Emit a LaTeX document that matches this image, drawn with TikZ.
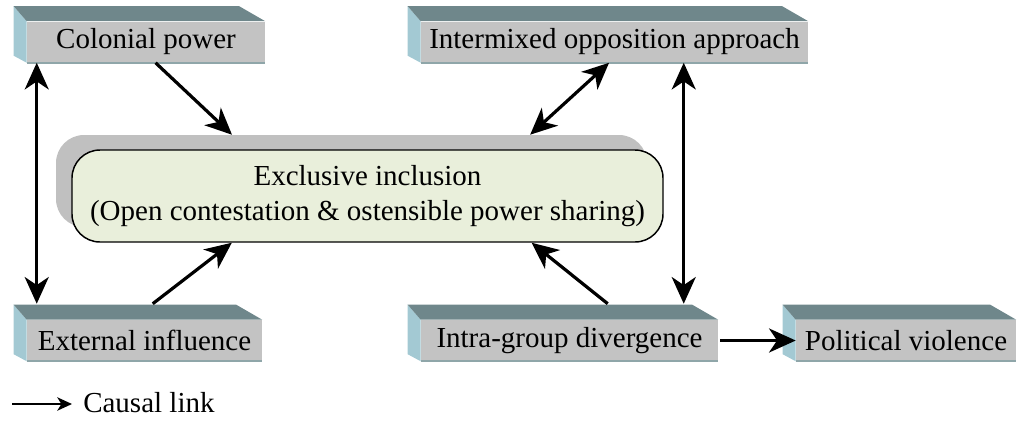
\documentclass[tikz,border=0pt]{standalone}
\usepackage{fontspec}
\setmainfont{Liberation Serif}
\usetikzlibrary{arrows.meta,calc}
\definecolor{topface}{HTML}{6F878B}
\definecolor{sideface}{HTML}{A3C9D3}
\definecolor{frontface}{HTML}{C3C3C3}
\definecolor{edgecol}{HTML}{8FA6A9}
\definecolor{mainfill}{HTML}{E9EFDB}
\definecolor{shadowgray}{HTML}{C0C0C0}
\tikzset{
  txt/.style={font=\fontsize{21.75pt}{26.25pt}\selectfont},
  boxfront/.style={txt, rectangle, fill=frontface, inner sep=0pt, minimum height=30.75pt},
  mainbox/.style={txt, rectangle, rounded corners=21pt, draw=black, line width=1.1pt, fill=mainfill,
    minimum width=443.25pt, minimum height=69pt, inner sep=0pt, align=center},
  shadowbox/.style={rectangle, rounded corners=21pt, fill=shadowgray,
    minimum width=443.25pt, minimum height=69pt, inner sep=0pt},
  arr/.style={line width=2.4pt, -{Stealth[length=20pt,width=18pt,inset=6pt]}},
  darr/.style={line width=2.4pt, {Stealth[length=20pt,width=18pt,inset=6pt]}-{Stealth[length=20pt,width=18pt,inset=6pt]}},
  legarr/.style={line width=1.4pt, -{Stealth[length=11pt,width=10pt,inset=3pt]}},
  legtext/.style={txt, inner sep=0pt, anchor=base west},
}
\newcommand\boxthreed[1]{%
  \fill[sideface] ($(#1.north west)+(-13,-15)$) -- (#1.north west) -- (#1.south west) -- ($(#1.south west)+(-13,-7)$) -- cycle;
  \fill[topface] ($(#1.north west)+(-13,-15)$) -- ($(#1.north east)+(-26,-15)$) -- (#1.north east) -- (#1.north west) -- cycle;
  \draw[edgecol, line width=1.2pt] (#1.south west) -- (#1.south east);
}
\begin{document}
\begin{tikzpicture}[x=0.75pt, y=-0.75pt]
\useasboundingbox (0,0) rectangle (1018,429);

% 3D boxes
\node[boxfront, minimum width=178.5pt] (colonial) at (146,42) {Colonial power};
\node[boxfront, minimum width=290.25pt] (inter) at (614.5,42) {Intermixed opposition approach};
\node[boxfront, minimum width=176.25pt] (external) at (144.5,340.5) {External influence};
\node[boxfront, minimum width=222.75pt] (intra) at (569.5,340.5) {Intra-group divergence};
\node[boxfront, minimum width=165pt] (political) at (906,340.5) {Political violence};
\boxthreed{colonial}
\boxthreed{inter}
\boxthreed{external}
\boxthreed{intra}
\boxthreed{political}

% central box
\node[shadowbox] (shadow) at (351.5,181) {};
\node[mainbox] (main) at (367.5,196) {Exclusive inclusion\\(Open contestation \& ostensible power sharing)};

% connectors
\draw[arr] ($(colonial.south west)!0.54!(colonial.south east)$) -- ($(shadow.north west)!0.298!(shadow.north east)$);
\draw[darr] ($(inter.south west)!0.486!(inter.south east)$) -- ($(shadow.north west)!0.802!(shadow.north east)$);
\draw[darr] ($(colonial.south west)+(10,0)$) -- ($(external.north west)+(10,-16)$);
\draw[darr] ($(inter.south west)+(263,0)$) -- ($(intra.north west)+(263,-16)$);
\draw[arr] ($(external.north west)+(126,-16)$) -- ($(main.south west)!0.271!(main.south east)$);
\draw[arr] ($(intra.north west)+(187,-16)$) -- ($(main.south west)!0.777!(main.south east)$);
\draw[arr] ($(intra.east)+(2,0)$) -- (political.west);

% legend
\coordinate (leg1) at (12,404);
\coordinate (leg2) at (72,404);
\draw[legarr] (leg1) -- (leg2);
\node[legtext] (legt) at (83,412) {Causal link};
\end{tikzpicture}
\end{document}
